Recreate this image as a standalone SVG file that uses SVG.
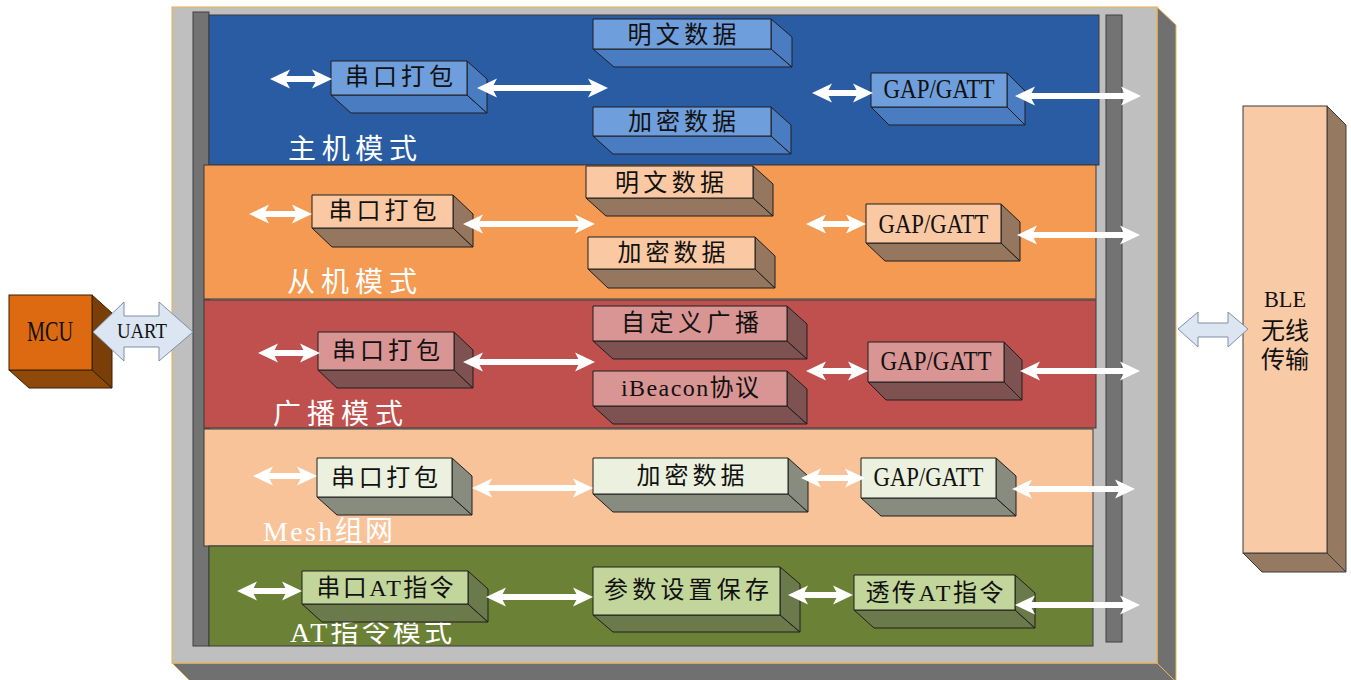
<svg xmlns="http://www.w3.org/2000/svg" width="1351" height="680" viewBox="0 0 1351 680">
<style>
.t{font-family:"Liberation Serif","Noto Sans CJK SC",serif;font-size:24px;fill:#111;text-anchor:middle}
.g{font-size:27px}
.lbl{font-family:"Liberation Serif","Noto Sans CJK SC",serif;font-size:28px;fill:#fff}
.band{stroke:#3a3a3a;stroke-width:1}
.bx rect,.bx polygon{stroke:#1e1e1e;stroke-width:1;stroke-linejoin:round}
.blue rect{fill:#6F9EDC}.blue polygon{fill:#4A7CC2}
.org rect{fill:#FAC9A3}.org polygon{fill:#957760}
.red rect{fill:#D99594}.red polygon{fill:#7E5250}
.msh rect{fill:#EBF1DE}.msh polygon{fill:#888C7E}
.grn rect{fill:#C2D69B}.grn polygon{fill:#6B7A4B}
.arr{stroke:#fff;stroke-width:6;fill:none;marker-start:url(#ah);marker-end:url(#ah)}
.dbl{fill:#DCE6F2;stroke:#7F8FA8;stroke-width:1}
</style>
<defs>
<marker id="ah" viewBox="0 0 20 20" refX="8" refY="10" markerWidth="20" markerHeight="20" markerUnits="userSpaceOnUse" orient="auto-start-reverse">
<path d="M0,0.5 L20,10 L0,19.5 L5,10 Z" fill="#fff"/>
</marker>
</defs>

<g id="frame">
<polygon points="1157,7 1176,25 1176,682 1157,663" fill="#707070" stroke="#E8B85A" stroke-width="1"/>
<polygon points="172,663 1157,663 1176,682 191,682" fill="#707070" stroke="#E8B85A" stroke-width="1"/>
<rect x="172" y="7" width="985" height="656" fill="#BFBFBF" stroke="#E8B85A" stroke-width="1.2"/>
<rect x="193" y="12" width="16" height="634" fill="#737373" stroke="#404040"/>
<rect x="1106" y="15" width="16" height="627" fill="#737373" stroke="#404040"/>
</g>

<g id="band-host"><rect class="band" x="209" y="15" width="890" height="150" fill="#2A5CA3"/><text class="lbl" x="288" y="159" textLength="129" lengthAdjust="spacing">主机模式</text></g>
<g id="band-slave"><rect class="band" x="204" y="165" width="892" height="134" fill="#F49A52"/><text class="lbl" x="287" y="292" textLength="130" lengthAdjust="spacing">从机模式</text></g>
<g id="band-adv"><rect class="band" x="204" y="300" width="892" height="128" fill="#C0504D"/><text class="lbl" x="273" y="424" textLength="130" lengthAdjust="spacing">广播模式</text></g>
<g id="band-mesh"><rect class="band" x="204" y="429" width="889" height="117" fill="#F9C39A"/><text class="lbl" x="263" y="541" textLength="130" lengthAdjust="spacing">Mesh组网</text></g>
<g id="band-at"><rect class="band" x="209" y="546" width="884" height="100" fill="#6B8236"/><text class="lbl" x="290" y="642" textLength="162" lengthAdjust="spacing">AT指令模式</text></g>

<g id="b1" class="bx blue"><polygon points="331,95 467,95 487,113 351,113"/><polygon points="467,61 487,79 487,113 467,95"/><rect x="331" y="61" width="136" height="34"/><text class="t" x="399" y="85" textLength="108" lengthAdjust="spacing">串口打包</text></g>
<g id="b2" class="bx blue"><polygon points="593,49 771,49 792,67 614,67"/><polygon points="771,19 792,37 792,67 771,49"/><rect x="593" y="19" width="178" height="30"/><text class="t" x="682" y="43" textLength="109" lengthAdjust="spacing">明文数据</text></g>
<g id="b3" class="bx blue"><polygon points="593,136 771,136 791,154 613,154"/><polygon points="771,107 791,125 791,154 771,136"/><rect x="593" y="107" width="178" height="29"/><text class="t" x="682" y="130" textLength="108" lengthAdjust="spacing">加密数据</text></g>
<g id="b4" class="bx blue"><polygon points="871,107 1007,107 1025,125 889,125"/><polygon points="1007,73 1025,91 1025,125 1007,107"/><rect x="871" y="73" width="136" height="34"/><text class="t g" x="939" y="98" textLength="111" lengthAdjust="spacingAndGlyphs">GAP/GATT</text></g>

<g id="o1" class="bx org"><polygon points="312,228 453,228 473,247 332,247"/><polygon points="453,195 473,214 473,247 453,228"/><rect x="312" y="195" width="141" height="33"/><text class="t" x="382.5" y="219" textLength="108" lengthAdjust="spacing">串口打包</text></g>
<g id="o2" class="bx org"><polygon points="586,198 753,198 773,216 606,216"/><polygon points="753,166 773,184 773,216 753,198"/><rect x="586" y="166" width="167" height="32"/><text class="t" x="669.5" y="191" textLength="109" lengthAdjust="spacing">明文数据</text></g>
<g id="o3" class="bx org"><polygon points="588,269 755,269 775,288 608,288"/><polygon points="755,237 775,256 775,288 755,269"/><rect x="588" y="237" width="167" height="32"/><text class="t" x="671.5" y="261" textLength="108" lengthAdjust="spacing">加密数据</text></g>
<g id="o4" class="bx org"><polygon points="866,243 1001,243 1020,261 885,261"/><polygon points="1001,204 1020,222 1020,261 1001,243"/><rect x="866" y="204" width="135" height="39"/><text class="t g" x="933.5" y="233" textLength="110" lengthAdjust="spacingAndGlyphs">GAP/GATT</text></g>

<g id="r1" class="bx red"><polygon points="318,370 454,370 473,388 337,388"/><polygon points="454,332 473,350 473,388 454,370"/><rect x="318" y="332" width="136" height="38"/><text class="t" x="386" y="359" textLength="108" lengthAdjust="spacing">串口打包</text></g>
<g id="r2" class="bx red"><polygon points="593,341 787,341 807,359 613,359"/><polygon points="787,306 807,324 807,359 787,341"/><rect x="593" y="306" width="194" height="35"/><text class="t" x="690" y="331" textLength="138" lengthAdjust="spacing">自定义广播</text></g>
<g id="r3" class="bx red"><polygon points="593,406 787,406 807,424 613,424"/><polygon points="787,371 807,389 807,424 787,406"/><rect x="593" y="371" width="194" height="35"/><text class="t" x="690" y="396" font-size="25" textLength="138" lengthAdjust="spacing">iBeacon协议</text></g>
<g id="r4" class="bx red"><polygon points="868,382 1004,382 1022,400 886,400"/><polygon points="1004,342 1022,360 1022,400 1004,382"/><rect x="868" y="342" width="136" height="40"/><text class="t g" x="936" y="370" textLength="111" lengthAdjust="spacingAndGlyphs">GAP/GATT</text></g>

<g id="m1" class="bx msh"><polygon points="317,497 452,497 472,515 337,515"/><polygon points="452,458 472,476 472,515 452,497"/><rect x="317" y="458" width="135" height="39"/><text class="t" x="384.5" y="486" textLength="107" lengthAdjust="spacing">串口打包</text></g>
<g id="m2" class="bx msh"><polygon points="593,494 788,494 808,512 613,512"/><polygon points="788,458 808,476 808,512 788,494"/><rect x="593" y="458" width="195" height="36"/><text class="t" x="690.5" y="484" textLength="108" lengthAdjust="spacing">加密数据</text></g>
<g id="m3" class="bx msh"><polygon points="861,498 996,498 1016,516 881,516"/><polygon points="996,458 1016,476 1016,516 996,498"/><rect x="861" y="458" width="135" height="40"/><text class="t g" x="928.5" y="486" textLength="110" lengthAdjust="spacingAndGlyphs">GAP/GATT</text></g>

<g id="g1" class="bx grn"><polygon points="302,604 468,604 488,622 322,622"/><polygon points="468,571 488,589 488,622 468,604"/><rect x="302" y="571" width="166" height="33"/><text class="t" x="385" y="596" textLength="137" lengthAdjust="spacing">串口AT指令</text></g>
<g id="g2" class="bx grn"><polygon points="593,615 780,615 800,632 613,632"/><polygon points="780,567 800,584 800,632 780,615"/><rect x="593" y="567" width="187" height="48"/><text class="t" x="686.5" y="598" textLength="165" lengthAdjust="spacing">参数设置保存</text></g>
<g id="g3" class="bx grn"><polygon points="854,610 1015,610 1035,628 874,628"/><polygon points="1015,575 1035,593 1035,628 1015,610"/><rect x="854" y="575" width="161" height="35"/><text class="t" x="934.5" y="601" textLength="138" lengthAdjust="spacing">透传AT指令</text></g>

<g id="mcu">
<polygon points="9,370 92,370 112,388 29,388" fill="#8F4A0B" stroke="#3a2000"/>
<polygon points="92,295 112,313 112,388 92,370" fill="#7A3E08" stroke="#3a2000"/>
<rect x="9" y="295" width="83" height="75" fill="#DD6A10" stroke="#3a2000"/>
<text x="50" y="341" font-family="Liberation Serif" font-size="29" fill="#111" text-anchor="middle" textLength="46" lengthAdjust="spacingAndGlyphs">MCU</text>
</g>

<g id="ble">
<polygon points="1243,553 1327,553 1346,572 1262,572" fill="#957A61" stroke="#3a3a3a"/>
<polygon points="1327,106 1346,125 1346,572 1327,553" fill="#957A61" stroke="#3a3a3a"/>
<rect x="1243" y="106" width="84" height="447" fill="#F9CAA6" stroke="#3a3a3a"/>
<text class="t" x="1285" y="307" font-size="23" textLength="42" lengthAdjust="spacingAndGlyphs">BLE</text>
<text class="t" x="1285" y="339" font-size="24">无线</text>
<text class="t" x="1285" y="368" font-size="24">传输</text>
</g>

<g id="connectors">
<polygon class="dbl" points="93,332 124,302 124,316 159,316 159,302 193,332 159,361 159,347 124,347 124,361"/>
<text x="142" y="338" font-family="Liberation Serif" font-size="22" fill="#111" text-anchor="middle" textLength="50" lengthAdjust="spacingAndGlyphs">UART</text>
<polygon class="dbl" points="1178,329 1198,312 1198,323 1228,323 1228,312 1248,329 1228,347 1228,337 1198,337 1198,347"/>

<line class="arr" x1="282" y1="79" x2="320" y2="79"/>
<line class="arr" x1="489" y1="88" x2="596" y2="88"/>
<line class="arr" x1="824" y1="93" x2="861" y2="93"/>
<line class="arr" x1="1027" y1="96" x2="1129" y2="96"/>

<line class="arr" x1="261" y1="214" x2="300" y2="214"/>
<line class="arr" x1="475" y1="224" x2="583" y2="224"/>
<line class="arr" x1="818" y1="224" x2="854" y2="224"/>
<line class="arr" x1="1029" y1="235" x2="1128" y2="235"/>

<line class="arr" x1="270" y1="353" x2="308" y2="353"/>
<line class="arr" x1="475" y1="362" x2="583" y2="362"/>
<line class="arr" x1="818" y1="371" x2="856" y2="371"/>
<line class="arr" x1="1032" y1="371" x2="1128" y2="371"/>

<line class="arr" x1="265" y1="476" x2="305" y2="476"/>
<line class="arr" x1="484" y1="488" x2="581" y2="488"/>
<line class="arr" x1="813" y1="478" x2="853" y2="478"/>
<line class="arr" x1="1024" y1="489" x2="1123" y2="489"/>

<line class="arr" x1="249" y1="591" x2="290" y2="591"/>
<line class="arr" x1="498" y1="597" x2="581" y2="597"/>
<line class="arr" x1="800" y1="595" x2="841" y2="595"/>
<line class="arr" x1="1027" y1="605" x2="1128" y2="605"/>
</g>
</svg>
